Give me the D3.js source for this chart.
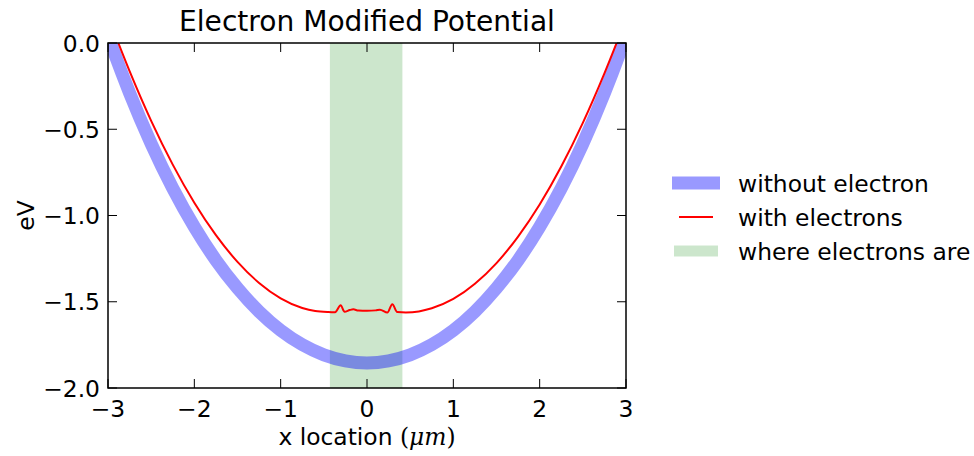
<!DOCTYPE html>
<html lang="en">

<head>
    <meta charset="UTF-8">
    <script src="https://cdn.jsdelivr.net/npm/d3@7"></script>
    <title>Electron Modified Potential</title>
    <style>
        body {
            margin: 0;
            background: white;
        }

        text {
            font-family: "DejaVu Sans", sans-serif;
            fill: black;
        }
    </style>
</head>

<body>
    <div id="chart"></div>
    <script>
        /*------------------- data --------------------*/
        // potential without electrons
        const x_bare = [-3.1, -3.0, -2.75, -2.5, -2.25, -2.0, -1.75, -1.5, -1.25, -1.0, -0.75, -0.5, -0.25, 0,
            0.25, 0.5, 0.75, 1.0, 1.25, 1.5, 1.75, 2.0, 2.25, 2.5, 2.75, 3.0, 3.1];
        const v_bare = [0.186, 0.042, -0.290, -0.584, -0.842, -1.066, -1.259, -1.421, -1.557, -1.666, -1.749, -1.808, -1.843, -1.855,
            -1.843, -1.808, -1.749, -1.666, -1.557, -1.421, -1.259, -1.066, -0.842, -0.584, -0.290, 0.042, 0.186];

        // potential with the electrons sitting in the middle
        const x_elec = [-2.95, -2.75, -2.5, -2.25, -2.0, -1.75, -1.5, -1.25, -1.0, -0.75, -0.6, -0.45,
            -0.37, -0.305, -0.26, -0.2, -0.158, -0.1, 0, 0.1, 0.15, 0.236, 0.293, 0.35, 0.45,
            0.6, 0.75, 1.0, 1.25, 1.5, 1.75, 2.0, 2.25, 2.5, 2.75, 2.95];
        const v_elec = [0.09, -0.163, -0.451, -0.705, -0.926, -1.114, -1.269, -1.391, -1.480, -1.536, -1.554, -1.560,
            -1.561, -1.521, -1.558, -1.548, -1.544, -1.551, -1.552, -1.550, -1.546, -1.563, -1.515, -1.560, -1.562,
            -1.556, -1.538, -1.484, -1.396, -1.276, -1.122, -0.936, -0.716, -0.463, -0.176, 0.075];

        // where the electrons are
        const elec_span = [-0.43, 0.41];

        const x_ticks = [-3, -2, -1, 0, 1, 2, 3];
        const y_ticks = [0.0, -0.5, -1.0, -1.5, -2.0];
        const legend_labels = ["without electron", "with electrons", "where electrons are"];

        /*------------------- layout --------------------*/
        const width = 974, height = 456;
        const plot = { left: 108, right: 626, top: 43, bottom: 388 };
        const fs = 23.4; // base font size

        const x = d3.scaleLinear().domain([-3, 3]).range([plot.left, plot.right]);
        const y = d3.scaleLinear().domain([-2, 0]).range([plot.bottom, plot.top]);

        const svg = d3.select("#chart").append("svg")
            .attr("width", width)
            .attr("height", height);

        svg.append("clipPath").attr("id", "clip")
            .append("rect")
            .attr("x", plot.left).attr("y", plot.top)
            .attr("width", plot.right - plot.left)
            .attr("height", plot.bottom - plot.top);

        const g = svg.append("g").attr("clip-path", "url(#clip)");

        // shaded electron region
        g.append("rect")
            .attr("x", x(elec_span[0]))
            .attr("y", plot.top)
            .attr("width", x(elec_span[1]) - x(elec_span[0]))
            .attr("height", plot.bottom - plot.top)
            .attr("fill", "green")
            .attr("opacity", 0.2);

        const line = d3.line()
            .x(d => x(d[0]))
            .y(d => y(d[1]))
            .curve(d3.curveMonotoneX);

        g.append("path")
            .datum(d3.zip(x_bare, v_bare))
            .attr("d", line)
            .attr("fill", "none")
            .attr("stroke", "blue")
            .attr("stroke-opacity", 0.4)
            .attr("stroke-width", 13);

        g.append("path")
            .datum(d3.zip(x_elec, v_elec))
            .attr("d", line)
            .attr("fill", "none")
            .attr("stroke", "red")
            .attr("stroke-width", 2);

        /*------------------- axes --------------------*/
        const tickLen = 9;
        const frame = svg.append("g");

        x_ticks.forEach(t => {
            frame.append("line")
                .attr("x1", x(t)).attr("x2", x(t))
                .attr("y1", plot.bottom).attr("y2", plot.bottom - tickLen)
                .attr("stroke", "black");
            frame.append("line")
                .attr("x1", x(t)).attr("x2", x(t))
                .attr("y1", plot.top).attr("y2", plot.top + tickLen)
                .attr("stroke", "black");
            frame.append("text")
                .attr("x", x(t)).attr("y", plot.bottom + 29)
                .attr("text-anchor", "middle")
                .attr("font-size", fs)
                .text(t < 0 ? "\u2212" + Math.abs(t) : t);
        });

        y_ticks.forEach(t => {
            frame.append("line")
                .attr("x1", plot.left).attr("x2", plot.left + tickLen)
                .attr("y1", y(t)).attr("y2", y(t))
                .attr("stroke", "black");
            frame.append("line")
                .attr("x1", plot.right).attr("x2", plot.right - tickLen)
                .attr("y1", y(t)).attr("y2", y(t))
                .attr("stroke", "black");
            frame.append("text")
                .attr("x", plot.left - 8).attr("y", y(t) + 8.5)
                .attr("text-anchor", "end")
                .attr("font-size", fs)
                .text(t < 0 ? "\u2212" + Math.abs(t).toFixed(1) : t.toFixed(1));
        });

        frame.append("rect")
            .attr("x", plot.left).attr("y", plot.top)
            .attr("width", plot.right - plot.left)
            .attr("height", plot.bottom - plot.top)
            .attr("fill", "none")
            .attr("stroke", "black")
            .attr("stroke-width", 1.5);

        // title and axis labels
        svg.append("text")
            .attr("x", (plot.left + plot.right) / 2).attr("y", 31)
            .attr("text-anchor", "middle")
            .attr("font-size", fs * 1.2)
            .text("Electron Modified Potential");

        const xlab = svg.append("text")
            .attr("x", (plot.left + plot.right) / 2).attr("y", 445)
            .attr("text-anchor", "middle")
            .attr("font-size", fs);
        xlab.append("tspan").text("x location ");
        xlab.append("tspan").attr("font-family", "DejaVu Serif").text("(");
        xlab.append("tspan").attr("font-family", "DejaVu Serif").attr("font-style", "italic").text("\u03bcm");
        xlab.append("tspan").attr("font-family", "DejaVu Serif").text(")");

        svg.append("text")
            .attr("transform", `translate(34, ${(plot.top + plot.bottom) / 2}) rotate(-90)`)
            .attr("text-anchor", "middle")
            .attr("font-size", fs)
            .text("eV");

        /*------------------- legend --------------------*/
        const legend = svg.append("g");
        const rowY = [183, 217, 251];

        legend.append("line")
            .attr("x1", 672).attr("x2", 720)
            .attr("y1", rowY[0]).attr("y2", rowY[0])
            .attr("stroke", "blue").attr("stroke-opacity", 0.4)
            .attr("stroke-width", 13);
        legend.append("line")
            .attr("x1", 679).attr("x2", 713)
            .attr("y1", rowY[1]).attr("y2", rowY[1])
            .attr("stroke", "red").attr("stroke-width", 2);
        legend.append("rect")
            .attr("x", 674).attr("y", rowY[2] - 5.5)
            .attr("width", 44).attr("height", 11)
            .attr("fill", "green").attr("opacity", 0.2);

        legend_labels.forEach((l, i) => {
            legend.append("text")
                .attr("x", 738).attr("y", rowY[i] + 8.5)
                .attr("font-size", fs)
                .text(l);
        });
    </script>
</body>

</html>
